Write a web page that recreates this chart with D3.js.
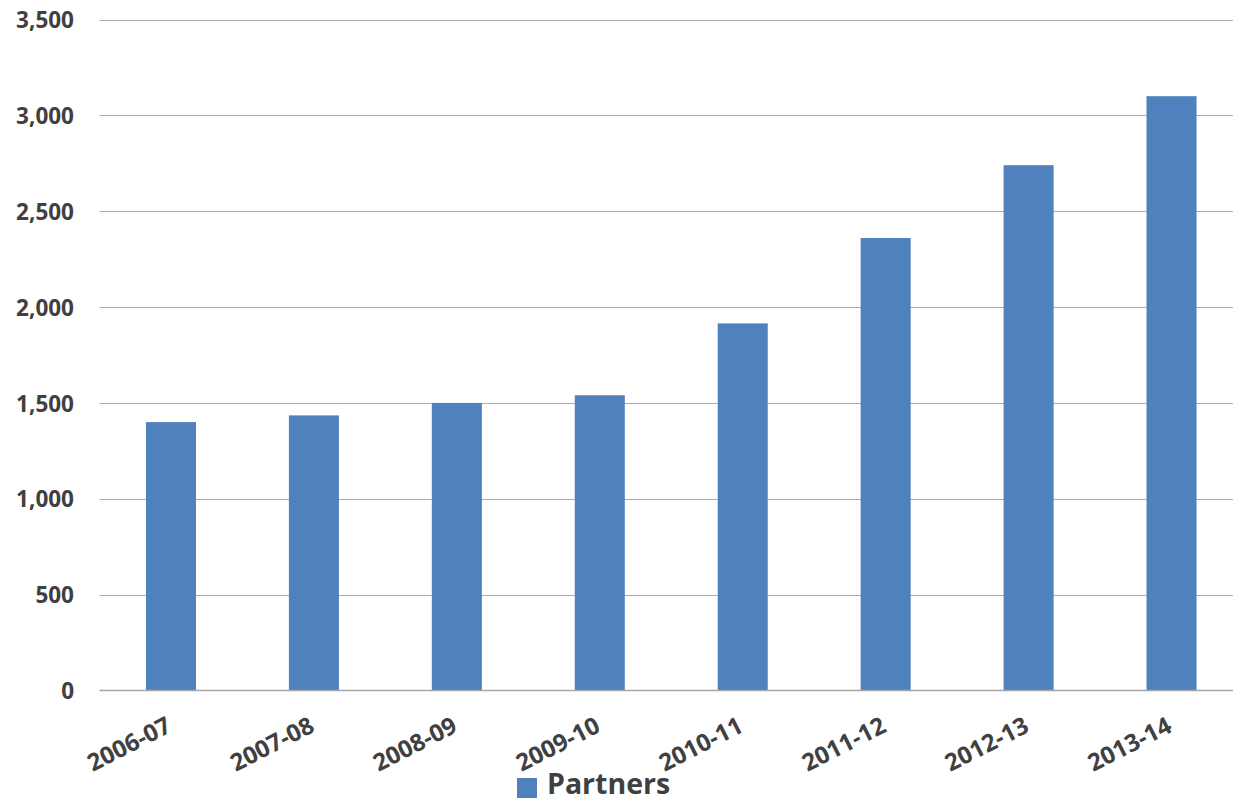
<!DOCTYPE html>
<html>
<head>
<meta charset="utf-8">
<script src="https://cdn.jsdelivr.net/npm/d3@7"></script>
<style>
  html, body { margin: 0; padding: 0; background: #fff; }
  svg { display: block; }
  text { font-family: "Open Sans", sans-serif; font-weight: 700; fill: #404040; }
</style>
</head>
<body>
<svg id="chart" width="1233" height="801"></svg>
<script>
const categories = ["2006-07", "2007-08", "2008-09", "2009-10", "2010-11", "2011-12", "2012-13", "2013-14"];
const partners = [1400, 1435, 1500, 1540, 1915, 2360, 2740, 3100];
const yTicks = [0, 500, 1000, 1500, 2000, 2500, 3000, 3500];
const seriesName = "Partners";

const svg = d3.select("#chart");
const plot = { left: 99.5, right: 1243, top: 19.5, bottom: 690.5 };

const x = d3.scaleBand().domain(categories).range([plot.left, plot.right])
  .paddingInner(0.65).paddingOuter(0.325);
const y = d3.scaleLinear().domain([0, 3500]).range([plot.bottom, plot.top]);

// gridlines
svg.append("g").selectAll("line").data(yTicks.filter(d => d > 0)).join("line")
  .attr("x1", plot.left).attr("x2", plot.right)
  .attr("y1", d => Math.round(y(d)) + 0.5).attr("y2", d => Math.round(y(d)) + 0.5)
  .attr("stroke", "#ababab").attr("stroke-width", 1);

// y labels
const yAxis = d3.axisLeft(y).tickValues(yTicks).tickSize(0).tickPadding(0)
  .tickFormat(d3.format(","));
const gy = svg.append("g").attr("transform", "translate(74,0)").call(yAxis);
gy.select(".domain").remove();
gy.selectAll("text").attr("font-size", 22.5).attr("fill", "#404040")
  .attr("font-family", "'Open Sans', sans-serif").attr("font-weight", 700)
  .attr("dy", "0.36em");

// bars
svg.append("g").selectAll("rect").data(partners).join("rect")
  .attr("x", (d, i) => x(categories[i]))
  .attr("width", x.bandwidth())
  .attr("y", d => y(d))
  .attr("height", d => y(0) - y(d))
  .attr("fill", "#4f81bd");

// x axis line
svg.append("line").attr("x1", plot.left).attr("x2", plot.right)
  .attr("y1", plot.bottom).attr("y2", plot.bottom)
  .attr("stroke", "#a6a6a6").attr("stroke-width", 1.5);

// x labels
const xAxis = d3.axisBottom(x).tickSize(0).tickPadding(0);
const gx = svg.append("g").call(xAxis);
gx.select(".domain").remove();
gx.selectAll(".tick").attr("transform", d => `translate(${x(d) + x.bandwidth() / 2 + 2},731)`);
gx.selectAll("text").attr("font-size", 24).attr("fill", "#404040")
  .attr("font-family", "'Open Sans', sans-serif").attr("font-weight", 700)
  .attr("text-anchor", "end").attr("dy", 0).attr("y", 0)
  .attr("transform", "rotate(-27)");

// legend
const lg = svg.append("g");
lg.append("rect").attr("x", 517).attr("y", 778).attr("width", 20).attr("height", 20).attr("fill", "#4f81bd");
lg.append("text").attr("x", 547).attr("y", 794).attr("font-size", 28.5).text(seriesName);
</script>
</body>
</html>
